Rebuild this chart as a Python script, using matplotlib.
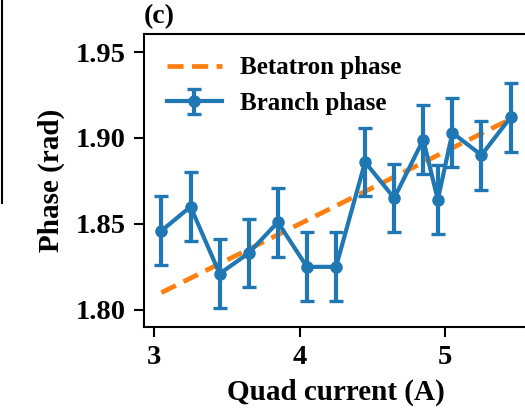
import matplotlib
matplotlib.use("Agg")
import matplotlib.pyplot as plt
from matplotlib.lines import Line2D

# quad current (A) and measured branch phase (rad)
current = [3.05, 3.25, 3.45, 3.65, 3.85, 4.05, 4.25, 4.45, 4.65, 4.85, 4.95, 5.05, 5.25, 5.45]
branch_phase = [1.846, 1.860, 1.821, 1.833, 1.851, 1.825, 1.825, 1.886, 1.865, 1.899, 1.864, 1.903, 1.890, 1.912]
branch_err = [0.020, 0.020, 0.020, 0.020, 0.020, 0.020, 0.020, 0.020, 0.020, 0.020, 0.020, 0.020, 0.020, 0.020]

# betatron phase (straight line)
betatron_x = [3.05, 5.45]
betatron_y = [1.810, 1.911]

plt.rcParams['font.family'] = ['Liberation Serif', 'DejaVu Serif']
plt.rcParams['font.weight'] = 'bold'
plt.rcParams['axes.labelweight'] = 'bold'

fig = plt.figure(figsize=(5.25, 4.11), dpi=100)
ax = fig.add_axes([0.2743, 0.2044, 0.7314, 0.7129])

ax.plot(betatron_x, betatron_y, '--', color='#ff7f0e', lw=3.4, dashes=(3.4, 1.8),
        label='Betatron phase')
ax.errorbar(current, branch_phase, yerr=branch_err, color='#1f77b4', lw=3,
            marker='o', ms=8, capsize=5, capthick=2.4, elinewidth=3,
            label='Branch phase')

ax.set_xlim(2.93, 5.57)
ax.set_ylim(1.79, 1.9605)
ax.set_xticks([3, 4, 5])
ax.set_yticks([1.80, 1.85, 1.90, 1.95])
ax.set_yticklabels(['1.80', '1.85', '1.90', '1.95'])

for s in ax.spines.values():
    s.set_linewidth(1.5)
ax.tick_params(direction='out', length=7, width=1.5, pad=6, labelsize=20.5)

ax.set_xlabel('Quad current (A)', fontsize=21, labelpad=6)
ax.set_ylabel('Phase (rad)', fontsize=21, labelpad=8)
ax.set_title('(c)', loc='left', fontsize=20, fontweight='bold', pad=8)

ax.legend(loc='upper left', frameon=False, handlelength=2.2,
          handletextpad=0.75, prop={'weight': 'bold', 'size': 18})

# edge of the neighbouring panel
fig.add_artist(Line2D([0.003, 0.003], [1.0, 1 - 203 / 411], color='k', lw=1.5))

fig.savefig('out.png', dpi=100)
